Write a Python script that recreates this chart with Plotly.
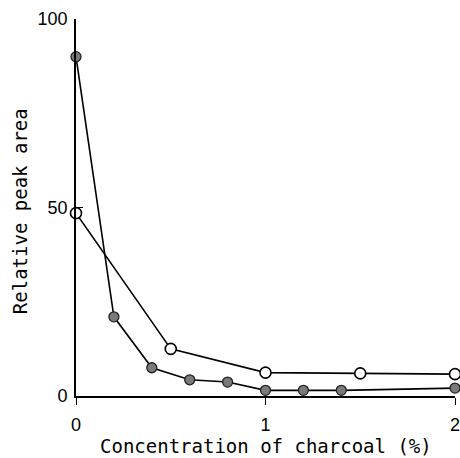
import plotly.graph_objects as go

filled_x = [0, 0.2, 0.4, 0.6, 0.8, 1.0, 1.2, 1.4, 2.0]
filled_y = [90, 21, 7.5, 4.3, 3.7, 1.5, 1.5, 1.5, 2.1]
open_x = [0, 0.5, 1.0, 1.5, 2.0]
open_y = [48.5, 12.5, 6.2, 6.0, 5.8]

x_ticks = [0, 1, 2]
y_ticks = [0, 50, 100]
x_title = "Concentration of charcoal (%)"
y_title = "Relative peak area"

fig = go.Figure()
fig.add_trace(go.Scatter(
    x=open_x, y=open_y, mode="lines+markers",
    line=dict(color="black", width=1.6),
    marker=dict(symbol="circle", size=11, color="white", line=dict(color="black", width=1.6)),
    cliponaxis=False, showlegend=False))
fig.add_trace(go.Scatter(
    x=filled_x, y=filled_y, mode="lines+markers",
    line=dict(color="black", width=1.6),
    marker=dict(symbol="circle", size=10, color="#7a7a7a", line=dict(color="#222", width=1.3)),
    cliponaxis=False, showlegend=False))

tick_font = dict(family="Liberation Sans", size=18, color="black")
title_font = dict(family="DejaVu Sans Mono", size=19, color="black")
fig.update_layout(
    width=460, height=458,
    margin=dict(l=76, r=5, t=19, b=62),
    plot_bgcolor="white", paper_bgcolor="white",
    font=tick_font,
    xaxis=dict(range=[0, 2], tickvals=x_ticks, ticktext=[str(v) for v in x_ticks],
               showgrid=False, zeroline=False, showline=True, linecolor="black", linewidth=1.6,
               ticks="outside", ticklen=7, tickwidth=1.4, tickcolor="black",
               tickfont=tick_font, ticklabeloverflow="allow", automargin=False,
               ticklabelstandoff=5),
    yaxis=dict(range=[0, 100], tickvals=y_ticks, ticktext=[str(v) for v in y_ticks],
               showgrid=False, zeroline=False, showline=True, linecolor="black", linewidth=1.6,
               ticks="inside", ticklen=7, tickwidth=1.4, tickcolor="black",
               tickfont=tick_font, ticklabeloverflow="allow", automargin=False,
               ticklabelstandoff=3),
    annotations=[
        dict(text=x_title, xref="paper", yref="paper", x=0.5, y=-0.133,
             xanchor="center", yanchor="middle", showarrow=False, font=title_font),
        dict(text=y_title, xref="paper", yref="paper", x=-0.148, y=0.49,
             xanchor="center", yanchor="middle", showarrow=False, textangle=-90, font=title_font),
    ],
)
fig.write_html("out.html")
